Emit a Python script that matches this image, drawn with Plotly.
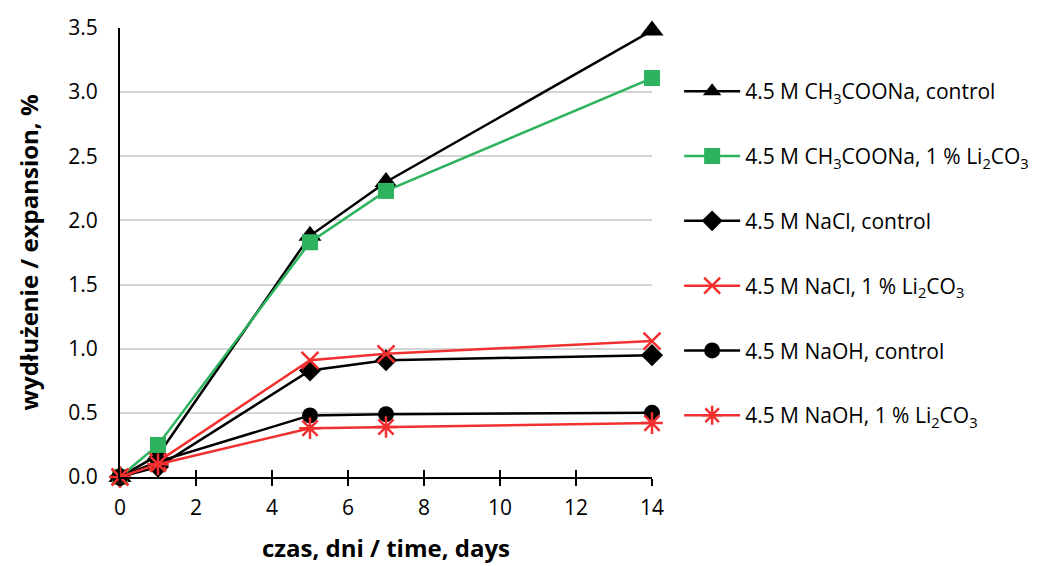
import plotly.graph_objects as go

days = [0, 1, 5, 7, 14]
ch3coona_control = [0.0, 0.17, 1.88, 2.30, 3.48]
ch3coona_li = [0.0, 0.25, 1.83, 2.23, 3.11]
nacl_control = [0.0, 0.08, 0.83, 0.91, 0.95]
nacl_li = [0.0, 0.12, 0.91, 0.96, 1.06]
naoh_control = [0.0, 0.12, 0.48, 0.49, 0.50]
naoh_li = [0.0, 0.10, 0.38, 0.39, 0.42]

names = [
    "4.5 M CH<sub>3</sub>COONa, control",
    "4.5 M CH<sub>3</sub>COONa, 1 % Li<sub>2</sub>CO<sub>3</sub>",
    "4.5 M NaCl, control",
    "4.5 M NaCl, 1 % Li<sub>2</sub>CO<sub>3</sub>",
    "4.5 M NaOH, control",
    "4.5 M NaOH, 1 % Li<sub>2</sub>CO<sub>3</sub>",
]
series = [ch3coona_control, ch3coona_li, nacl_control, nacl_li, naoh_control, naoh_li]
BLACK = "#000000"
GREEN = "#2db35d"
RED = "#f23030"
colors = [BLACK, GREEN, BLACK, RED, BLACK, RED]
symbols = ["triangle-up", "square", "diamond", "x-thin-open", "circle", "asterisk-open"]
sizes = [20, 16, 17, 17, 16, 18]

fig = go.Figure()
for i, (nm, ys) in enumerate(zip(names, series)):
    open_sym = symbols[i].endswith("open")
    fig.add_trace(go.Scatter(
        x=days, y=ys, name=nm, mode="lines+markers",
        legendgroup=f"g{i}",
        line=dict(color=colors[i], width=2.5),
        marker=dict(symbol=symbols[i], size=sizes[i], color=colors[i],
                    line=dict(color=colors[i], width=2.5 if open_sym else 0)),
        cliponaxis=False,
    ))

# companion axis providing the inward half of the crossing x ticks
fig.add_trace(go.Scatter(x=[0, 14], y=[0, 0], xaxis="x2", yaxis="y",
                         mode="markers", marker=dict(opacity=0),
                         showlegend=False, hoverinfo="skip"))

font_family = "Open Sans, Lato, sans-serif"
TICKS = [0, 2, 4, 6, 8, 10, 12, 14]
fig.update_layout(
    width=1033, height=558,
    paper_bgcolor="white", plot_bgcolor="white",
    margin=dict(l=112, r=389, t=20, b=89, autoexpand=False),
    font=dict(family=font_family, size=21, color="#000"),
    legend=dict(x=1.051, y=0.904, xanchor="left", yanchor="top",
                font=dict(size=21, family=font_family),
                tracegroupgap=34.5, itemwidth=56, bgcolor="rgba(0,0,0,0)"),
    xaxis=dict(range=[0, 14], tickvals=TICKS,
               showgrid=False, zeroline=False, showline=True,
               linecolor="#000", linewidth=2, ticks="outside", ticklen=7,
               tickwidth=2, tickcolor="#000", ticklabelstandoff=4,
               tickfont=dict(size=21),
               title=dict(text="<b>czas, dni / time, days</b>", font=dict(size=24), standoff=20)),
    xaxis2=dict(range=[0, 14], tickvals=TICKS,
                overlaying="x", anchor="y", side="bottom",
                showgrid=False, zeroline=False, showline=False,
                showticklabels=False, ticks="inside", ticklen=7, tickwidth=2,
                tickcolor="#000", layer="above traces"),
    yaxis=dict(range=[0, 3.5], tickvals=[0, 0.5, 1, 1.5, 2, 2.5, 3, 3.5],
               ticktext=["0.0", "0.5", "1.0", "1.5", "2.0", "2.5", "3.0", "3.5"],
               showgrid=True, gridcolor="#d4d4d4", gridwidth=1.5,
               zeroline=False, showline=True, linecolor="#000", linewidth=2,
               ticks="", tickfont=dict(size=21), ticklabelstandoff=16,
               title=dict(text="<b>wydłużenie / expansion, %</b>", font=dict(size=24), standoff=23)),
)

fig.write_html("out.html")
